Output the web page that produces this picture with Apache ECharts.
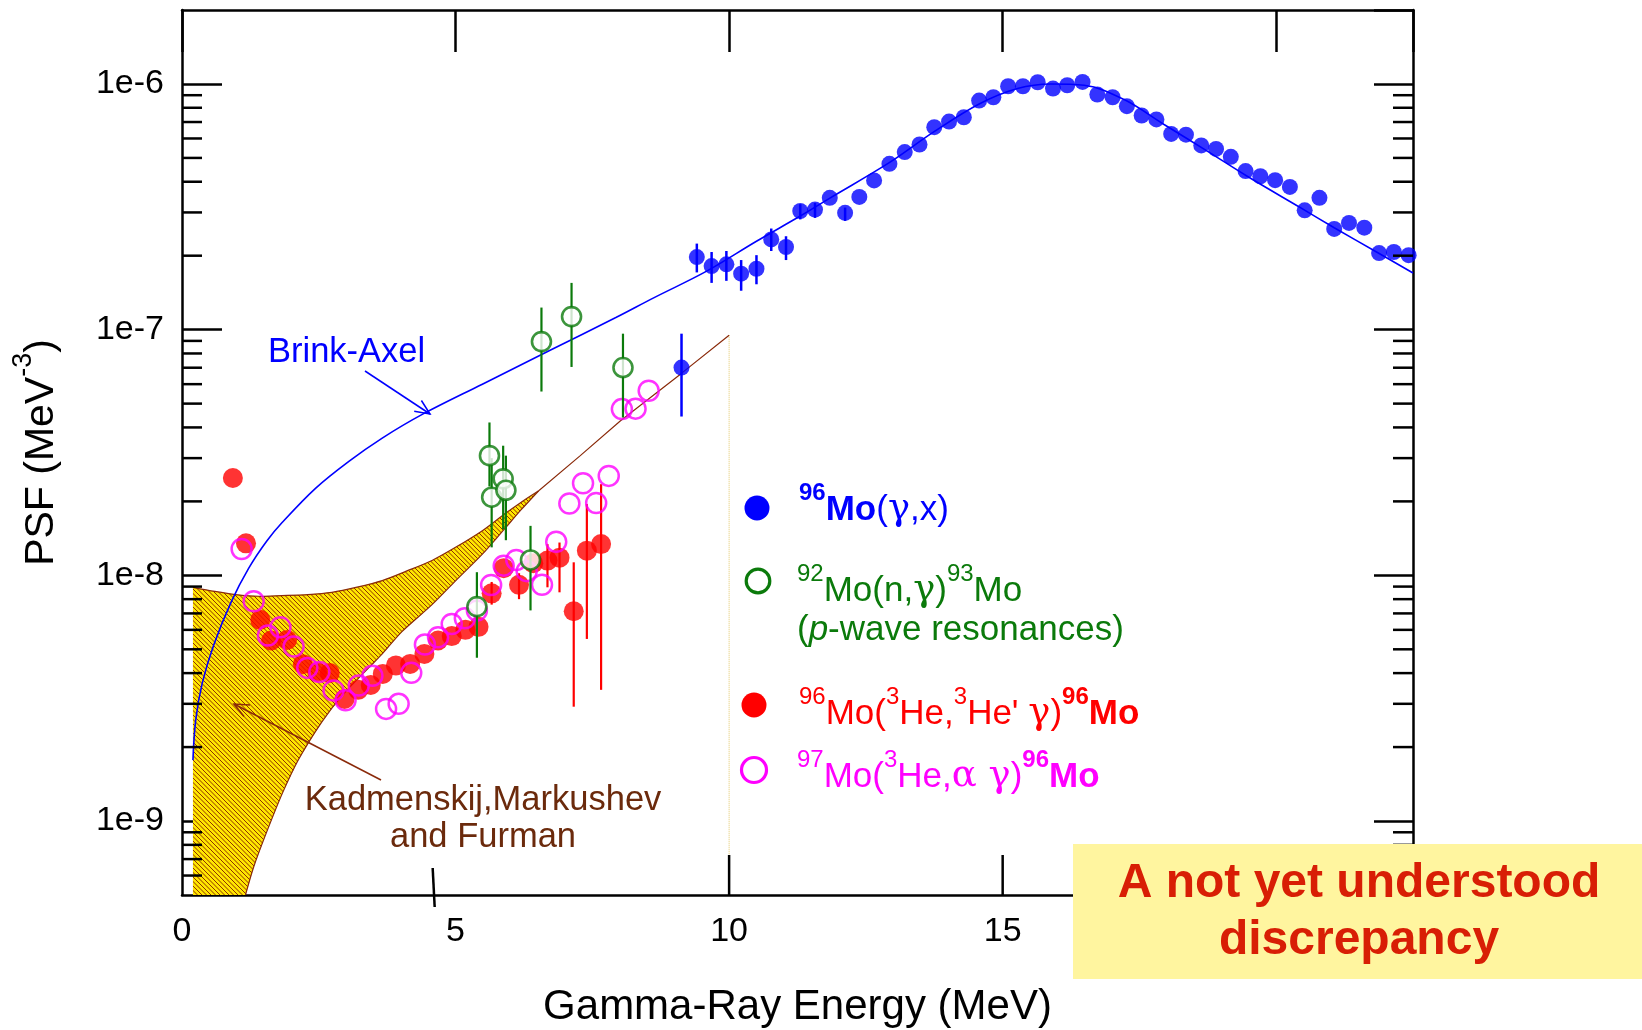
<!DOCTYPE html>
<html>
<head>
<meta charset="utf-8">
<title>PSF 96Mo</title>
<script src="https://cdn.jsdelivr.net/npm/echarts@6.0.0/dist/echarts.min.js"></script>
<style>
html,body{margin:0;padding:0;background:#ffffff;overflow:hidden;}
#chart{width:1642px;height:1030px;}
</style>
</head>
<body>
<div id="chart"></div>
<script>
// ---------------- data ----------------
const xTickLabels = ['0', '5', '10', '15', '20'];
const yTickLabels = ['1e-9', '1e-8', '1e-7', '1e-6'];
// bottom-axis tick marks as drawn in the reference (the one near 5 sits off-place, at ~4.6)
const bottomTickE = [10, 15, 20];
const strayTickE = [4.6];

// 96Mo(gamma,x)
const blueE = [9.13, 9.41, 9.68, 9.95, 10.22, 10.50, 10.77, 11.04, 11.30, 11.57, 11.84, 12.12, 12.38, 12.65, 12.93,
  13.21, 13.48, 13.75, 14.02, 14.29, 14.57, 14.83, 15.10, 15.37, 15.64, 15.92, 16.18, 16.46, 16.73, 17.01,
  17.27, 17.54, 17.81, 18.08, 18.35, 18.63, 18.90, 19.17, 19.44, 19.71, 19.98, 20.25, 20.52, 20.79, 21.06,
  21.33, 21.61, 21.88, 22.15, 22.42];
const blueV = [7.01e-8, 1.975e-7, 1.815e-7, 1.845e-7, 1.69e-7, 1.77e-7, 2.33e-7, 2.17e-7, 3.04e-7, 3.08e-7, 3.44e-7, 2.99e-7, 3.47e-7, 4.05e-7, 4.73e-7,
  5.28e-7, 5.67e-7, 6.67e-7, 7.03e-7, 7.32e-7, 8.56e-7, 8.83e-7, 9.79e-7, 9.79e-7, 1.016e-6, 9.58e-7, 9.88e-7, 1.019e-6, 9.06e-7, 8.83e-7,
  8.12e-7, 7.44e-7, 7.17e-7, 6.26e-7, 6.22e-7, 5.62e-7, 5.44e-7, 5.05e-7, 4.42e-7, 4.21e-7, 4.06e-7, 3.81e-7, 3.06e-7, 3.44e-7, 2.57e-7,
  2.72e-7, 2.60e-7, 2.05e-7, 2.07e-7, 2.01e-7];
const blueErrE  = [9.13, 9.41, 9.68, 9.95, 10.22, 10.50, 10.77, 11.04, 11.30, 11.57, 12.12];
const blueErrLo = [4.43e-8, 1.71e-7, 1.55e-7, 1.58e-7, 1.44e-7, 1.53e-7, 2.09e-7, 1.92e-7, 2.81e-7, 2.85e-7, 2.77e-7];
const blueErrHi = [9.63e-8, 2.24e-7, 2.07e-7, 2.09e-7, 1.92e-7, 2.01e-7, 2.58e-7, 2.40e-7, 3.24e-7, 3.28e-7, 3.14e-7];

// 92Mo(n,gamma)93Mo  (p-wave resonances)
const greenE  = [5.39, 5.62, 5.66, 5.87, 5.92, 6.37, 6.57, 7.12, 8.06];
const greenV  = [7.46e-9, 3.07e-8, 2.08e-8, 2.47e-8, 2.22e-8, 1.155e-8, 8.94e-8, 1.13e-7, 7.01e-8];
const greenLo = [4.62e-9, 2.30e-8, 1.30e-8, 1.54e-8, 1.39e-8, 7.2e-9, 5.6e-8, 7.05e-8, 4.39e-8];
const greenHi = [1.03e-8, 4.19e-8, 3.00e-8, 3.37e-8, 3.07e-8, 1.59e-8, 1.23e-7, 1.55e-7, 9.63e-8];

// 96Mo(3He,3He' gamma)96Mo
const redE = [0.93, 1.17, 1.43, 1.63, 1.92, 2.21, 2.47, 2.70, 2.97, 3.22, 3.45, 3.67, 3.91, 4.17,
  4.43, 4.68, 4.93, 5.18, 5.42, 5.66, 5.88, 6.16, 6.42, 6.68, 6.90, 7.16, 7.40, 7.66];
const redV = [2.49e-8, 1.35e-8, 6.59e-9, 5.43e-9, 5.46e-9, 4.35e-9, 4.04e-9, 4.00e-9, 3.14e-9, 3.42e-9, 3.58e-9, 3.97e-9, 4.30e-9, 4.36e-9,
  4.79e-9, 5.43e-9, 5.66e-9, 6.0e-9, 6.17e-9, 8.45e-9, 1.07e-8, 9.15e-9, 1.12e-8, 1.148e-8, 1.18e-8, 7.14e-9, 1.26e-8, 1.34e-8];
const redErrE  = [5.66, 6.16, 6.68, 6.90, 7.16, 7.40, 7.66];
const redErrLo = [7.6e-9, 8.0e-9, 8.94e-9, 8.53e-9, 2.92e-9, 5.51e-9, 3.42e-9];
const redErrHi = [9.4e-9, 1.02e-8, 1.34e-8, 1.36e-8, 1.13e-8, 1.95e-8, 2.35e-8];

// 97Mo(3He,alpha gamma)96Mo
const magE = [1.09, 1.31, 1.57, 1.80, 2.04, 2.29, 2.51, 2.77, 2.99, 3.23, 3.48, 3.73, 3.96, 4.19, 4.44, 4.68,
  4.93, 5.17, 5.39, 5.65, 5.88, 6.11, 6.30, 6.58, 6.84, 7.08, 7.33, 7.57, 7.80, 8.04, 8.29, 8.53];
const magV = [1.28e-8, 7.84e-9, 5.69e-9, 6.15e-9, 5.13e-9, 4.20e-9, 4.04e-9, 3.40e-9, 3.10e-9, 3.56e-9, 3.90e-9, 2.86e-9, 3.00e-9, 4.01e-9, 5.23e-9, 5.60e-9,
  6.34e-9, 6.69e-9, 7.19e-9, 9.13e-9, 1.095e-8, 1.155e-8, 1.04e-8, 9.15e-9, 1.37e-8, 1.96e-8, 2.37e-8, 1.97e-8, 2.54e-8, 4.75e-8, 4.77e-8, 5.64e-8];

// Brink-Axel curve
const brinkE = [0.20, 0.25, 0.37, 0.58, 0.90, 1.22, 1.55, 1.83, 2.44, 3.05, 3.66, 4.40, 5.49, 6.71, 7.93,
  8.63, 9.59, 10.50, 11.30, 11.85, 12.92, 13.74, 14.57, 15.27, 15.88, 16.49, 17.22, 17.95, 18.74, 19.47,
  20.45, 21.06, 21.85, 22.50];
const brinkV = [1.77e-9, 2.57e-9, 3.64e-9, 5.21e-9, 7.8e-9, 1.07e-8, 1.38e-8, 1.64e-8, 2.26e-8, 2.91e-8, 3.62e-8, 4.53e-8, 6.0e-8, 8.2e-8, 1.12e-7,
  1.35e-7, 1.73e-7, 2.29e-7, 2.90e-7, 3.44e-7, 4.77e-7, 6.38e-7, 8.29e-7, 9.58e-7, 1.00e-6, 9.88e-7, 8.64e-7, 6.84e-7, 5.33e-7, 4.21e-7,
  3.13e-7, 2.60e-7, 2.06e-7, 1.70e-7];

// Kadmenskij, Markushev and Furman band
const bandUpperE = [0.20, 0.60, 0.98, 1.40, 1.82, 2.30, 2.74, 3.20, 3.66, 4.10, 4.57, 5.00, 5.49, 5.90, 6.22, 6.52];
const bandUpperV = [8.94e-9, 8.6e-9, 8.35e-9, 8.22e-9, 8.27e-9, 8.35e-9, 8.53e-9, 8.95e-9, 9.52e-9, 1.04e-8, 1.15e-8, 1.30e-8, 1.52e-8, 1.78e-8, 2.0e-8, 2.21e-8];
const bandLowerE = [1.16, 1.31, 1.52, 1.83, 2.13, 2.56, 2.93, 3.41, 3.66, 4.02, 4.57, 5.00, 5.49, 5.90, 6.20, 6.52];
const bandLowerV = [5.0e-10, 6.5e-10, 8.7e-10, 1.29e-9, 1.78e-9, 2.54e-9, 3.25e-9, 4.2e-9, 4.79e-9, 5.9e-9, 7.6e-9, 9.5e-9, 1.22e-8, 1.55e-8, 1.85e-8, 2.21e-8];
const kmfExtE = [6.52, 7.28, 8.01, 9.11, 10.0];
const kmfExtV = [2.21e-8, 3.07e-8, 4.25e-8, 6.59e-8, 9.49e-8];
const kmfEndE = [10.0, 10.0];
const kmfEndV = [9.49e-8, 5e-10];

// ---------------- chart ----------------
const X_MIN = 0, X_MAX = 22.5, Y_MIN = 5e-10, Y_MAX = 2e-6;
const FF = '"Liberation Sans", Arial, Helvetica, sans-serif';
const C_BLUE = '#0000FF', C_GREEN = '#0B7A0B', C_RED = '#FF0000', C_MAG = '#FF00FF';
const C_BROWN = '#8A2A0A', C_KTXT = '#6B2A0C';
const TICK_W = 2.5, MAJOR_LEN = 40, MINOR_LEN = 20;

function zip(a, b) { return a.map((v, i) => [v, b[i]]); }

function hatchCanvas() {
  const s = 27, c = document.createElement('canvas');
  c.width = s; c.height = s;
  const g = c.getContext('2d');
  g.fillStyle = '#FFE600'; g.fillRect(0, 0, s, s);
  g.strokeStyle = '#8B3000'; g.lineWidth = 1.0;
  for (let x = -s; x <= s; x += 4.5) { g.beginPath(); g.moveTo(x, 0); g.lineTo(x + s, s); g.stroke(); }
  return c;
}
const hatch = hatchCanvas();

// minor log tick positions (2..9 x 10^n inside the axis range)
const minorVals = [];
for (let d = -10; d <= -7; d++) for (let k = 2; k <= 9; k++) {
  const v = k * Math.pow(10, d);
  if (v > Y_MIN * 1.0001 && v < Y_MAX * 0.9999) minorVals.push(v);
}

function errSeries(name, E, lo, hi, color, width, z) {
  return {
    type: 'custom', name: name, z: z, silent: true,
    data: E.map((e, i) => [e, lo[i], hi[i]]),
    encode: { x: 0, y: [1, 2] },
    renderItem: (params, api) => {
      const a = api.coord([api.value(0), api.value(1)]);
      const b = api.coord([api.value(0), api.value(2)]);
      return { type: 'line', shape: { x1: a[0], y1: a[1], x2: b[0], y2: b[1] }, style: { stroke: color, lineWidth: width } };
    }
  };
}

function arrow(x1, y1, x2, y2, color, w) {
  const dx = x2 - x1, dy = y2 - y1, L = Math.hypot(dx, dy), bx = -dx / L, by = -dy / L;
  const a = 24 * Math.PI / 180, h = 16;
  const p1 = [x2 + h * (bx * Math.cos(a) - by * Math.sin(a)), y2 + h * (bx * Math.sin(a) + by * Math.cos(a))];
  const p2 = [x2 + h * (bx * Math.cos(-a) - by * Math.sin(-a)), y2 + h * (bx * Math.sin(-a) + by * Math.cos(-a))];
  return [
    { type: 'line', z: 100, silent: true, shape: { x1: x1, y1: y1, x2: x2, y2: y2 }, style: { stroke: color, lineWidth: w } },
    { type: 'polyline', z: 100, silent: true, shape: { points: [p1, [x2, y2], p2] }, style: { stroke: color, lineWidth: w, fill: null } }
  ];
}

function rich(color) {
  return {
    m:  { fontSize: 35, fontFamily: FF, fill: color, lineHeight: 46, verticalAlign: 'bottom' },
    mb: { fontSize: 35, fontFamily: FF, fontWeight: 'bold', fill: color, lineHeight: 46, verticalAlign: 'bottom' },
    it: { fontSize: 35, fontFamily: FF, fontStyle: 'italic', fill: color, lineHeight: 46, verticalAlign: 'bottom' },
    g:  { fontSize: 37, fontFamily: '"DejaVu Serif", serif', fill: color, lineHeight: 46, verticalAlign: 'bottom' },
    s:  { fontSize: 24, fontFamily: FF, fill: color, lineHeight: 46, verticalAlign: 'top' },
    sb: { fontSize: 24, fontFamily: FF, fontWeight: 'bold', fill: color, lineHeight: 46, verticalAlign: 'top' }
  };
}
// y is the centre of the main (non-superscript) text
function richText(x, y, text, color) {
  return { type: 'text', z: 100, silent: true, x: x, y: y - 28.5,
    style: { text: text, rich: rich(color), fill: color, fontSize: 35, fontFamily: FF,
      align: 'left', verticalAlign: 'top', textAlign: 'left', textVerticalAlign: 'top' } };
}
function plainText(x, y, text, color, size, weight, align) {
  return { type: 'text', z: 100, silent: true, x: x, y: y,
    style: { text: text, fill: color, fontSize: size, fontFamily: FF, fontWeight: weight || 'normal',
      align: align || 'left', verticalAlign: 'middle', textAlign: align || 'left', textVerticalAlign: 'middle' } };
}

const graphics = [].concat(
  // legend
  [{ type: 'circle', z: 100, silent: true, shape: { cx: 757, cy: 508, r: 12.5 }, style: { fill: C_BLUE } }],
  [richText(799, 510, '{sb|96}{mb|Mo}{m|(}{g|γ}{m|,x)}', C_BLUE)],
  [{ type: 'circle', z: 100, silent: true, shape: { cx: 758, cy: 581, r: 11.8 }, style: { fill: '#fff', stroke: C_GREEN, lineWidth: 3.2 } }],
  [richText(797, 591, '{s|92}{m|Mo(n,}{g|γ}{m|)}{s|93}{m|Mo}', C_GREEN)],
  [richText(797, 630, '{m|(}{it|p}{m|-wave resonances)}', C_GREEN)],
  [{ type: 'circle', z: 100, silent: true, shape: { cx: 754, cy: 705, r: 12.5 }, style: { fill: C_RED } }],
  [richText(799, 714, "{s|96}{m|Mo(}{s|3}{m|He,}{s|3}{m|He' }{g|γ}{m|)}{sb|96}{mb|Mo}", C_RED)],
  [{ type: 'circle', z: 100, silent: true, shape: { cx: 754, cy: 770, r: 12.5 }, style: { fill: 'rgba(0,0,0,0)', stroke: C_MAG, lineWidth: 3.2 } }],
  [richText(797, 777, '{s|97}{m|Mo(}{s|3}{m|He,}{g|α γ}{m|)}{sb|96}{mb|Mo}', C_MAG)],
  // annotations
  [plainText(268, 352, 'Brink-Axel', C_BLUE, 34.5)],
  arrow(365, 371, 430, 414, C_BLUE, 1.5),
  [plainText(483, 800, 'Kadmenskij,Markushev', C_KTXT, 34.5, 'normal', 'center')],
  [plainText(483, 837, 'and Furman', C_KTXT, 34.5, 'normal', 'center')],
  arrow(381, 780, 234, 704, C_BROWN, 1.5),
  // highlighted note
  [{ type: 'rect', z: 100, silent: true, shape: { x: 1073, y: 844, width: 569, height: 135 }, style: { fill: '#FFF59F' } }],
  [plainText(1359, 884, 'A not yet understood', '#D81E05', 48, 'bold', 'center')],
  [plainText(1359, 941, 'discrepancy', '#D81E05', 48, 'bold', 'center')]
);

const axisLineStyle = { color: '#000', width: 2.5 };
const tickStyle = { color: '#000', width: TICK_W };

const option = {
  animation: false,
  backgroundColor: '#ffffff',
  textStyle: { fontFamily: FF },
  grid: { left: 182, right: 229, top: 10, bottom: 135, containLabel: false, outerBoundsMode: 'none' },
  xAxis: [
    {
      type: 'value', position: 'bottom', min: X_MIN, max: X_MAX, interval: 5,
      name: 'Gamma-Ray Energy (MeV)', nameLocation: 'middle', nameGap: 91,
      nameTextStyle: { fontSize: 42, fontFamily: FF, color: '#000' },
      axisLine: { show: true, onZero: false, lineStyle: axisLineStyle },
      axisTick: { show: false },
      axisLabel: { show: true, margin: 20, fontSize: 34, fontFamily: FF, color: '#000', showMaxLabel: false,
        formatter: v => (xTickLabels.indexOf(String(v)) >= 0 ? String(v) : '') },
      splitLine: { show: false }
    },
    {
      type: 'value', position: 'top', min: X_MIN, max: X_MAX, interval: 5,
      axisLine: { show: true, onZero: false, lineStyle: axisLineStyle },
      axisTick: { show: true, inside: true, length: 42, lineStyle: tickStyle },
      axisLabel: { show: false }, splitLine: { show: false }
    }
  ],
  yAxis: [
    {
      type: 'log', logBase: 10, position: 'left', min: Y_MIN, max: Y_MAX,
      name: '{n|PSF (MeV}{s|-3}{n|)}', nameLocation: 'middle', nameGap: 120,
      nameTextStyle: { fontSize: 41, fontFamily: FF, color: '#000',
        rich: { n: { fontSize: 41, fontFamily: FF, color: '#000', lineHeight: 52, verticalAlign: 'bottom' },
                s: { fontSize: 27, fontFamily: FF, color: '#000', lineHeight: 52, verticalAlign: 'top' } } },
      axisLine: { show: true, onZero: false, lineStyle: axisLineStyle },
      axisTick: { show: true, inside: true, length: MAJOR_LEN, lineStyle: tickStyle },
      axisLabel: { show: true, margin: 18, fontSize: 34, fontFamily: FF, color: '#000', showMinLabel: false, showMaxLabel: false,
        formatter: v => { const s = yTickLabels.find(t => Math.abs(Number(t) - v) / v < 1e-6); return s || ''; } },
      splitLine: { show: false }
    },
    {
      type: 'log', logBase: 10, position: 'right', min: Y_MIN, max: Y_MAX,
      axisLine: { show: true, onZero: false, lineStyle: axisLineStyle },
      axisTick: { show: true, inside: true, length: 39, lineStyle: tickStyle },
      axisLabel: { show: false }, splitLine: { show: false }
    }
  ],
  series: [
    {
      type: 'custom', name: 'KMF band', z: 1, silent: true,
      data: [[bandUpperE[0], bandUpperV[0]]], encode: { x: 0, y: 1 },
      renderItem: (params, api) => {
        const up = bandUpperE.map((e, i) => api.coord([e, bandUpperV[i]]));
        const lo = bandLowerE.map((e, i) => api.coord([e, bandLowerV[i]]));
        const lb = api.coord([bandUpperE[0], Y_MIN]);
        const poly = [lb].concat(up, lo.slice().reverse());
        return { type: 'group', children: [
          { type: 'polygon', shape: { points: poly }, style: { fill: { image: hatch, repeat: 'repeat' }, stroke: null } },
          { type: 'polyline', shape: { points: up, smooth: 0.3 }, style: { stroke: C_BROWN, lineWidth: 1.2, fill: null } },
          { type: 'polyline', shape: { points: lo, smooth: 0.3 }, style: { stroke: C_BROWN, lineWidth: 1.2, fill: null } }
        ] };
      }
    },
    { type: 'line', name: 'KMF end', z: 2, silent: true, data: zip(kmfEndE, kmfEndV), symbol: 'none',
      lineStyle: { color: '#E2C868', width: 1, type: 'dotted' } },
    { type: 'line', name: 'KMF extension', z: 2, silent: true, data: zip(kmfExtE, kmfExtV), symbol: 'none',
      lineStyle: { color: C_BROWN, width: 1.2 } },
    { type: 'line', name: 'Brink-Axel', z: 3, silent: true, data: zip(brinkE, brinkV), symbol: 'none', smooth: 0.35,
      lineStyle: { color: C_BLUE, width: 1.6 } },
    errSeries('red err', redErrE, redErrLo, redErrHi, C_RED, 2.2, 4),
    { type: 'scatter', name: "96Mo(3He,3He'g)96Mo", z: 5, silent: true, data: zip(redE, redV), symbol: 'circle', symbolSize: 20,
      itemStyle: { color: C_RED } },
    { type: 'scatter', name: '97Mo(3He,ag)96Mo', z: 6, silent: true, data: zip(magE, magV), symbol: 'circle', symbolSize: 20,
      itemStyle: { color: 'rgba(0,0,0,0)', borderColor: C_MAG, borderWidth: 2.5 } },
    errSeries('green err', greenE, greenLo, greenHi, C_GREEN, 2.2, 7),
    { type: 'scatter', name: '92Mo(n,g)93Mo', z: 8, silent: true, data: zip(greenE, greenV), symbol: 'circle', symbolSize: 19,
      itemStyle: { color: '#ffffff', borderColor: C_GREEN, borderWidth: 2.6 } },
    errSeries('blue err', blueErrE, blueErrLo, blueErrHi, C_BLUE, 2.5, 9),
    { type: 'scatter', name: '96Mo(g,x)', z: 10, silent: true, data: zip(blueE, blueV), symbol: 'circle', symbolSize: 16,
      itemStyle: { color: C_BLUE } },
    {
      type: 'custom', name: 'minor ticks', z: 11, silent: true,
      data: minorVals.map(v => [X_MIN, v]), encode: { x: 0, y: 1 },
      renderItem: (params, api) => {
        const v = api.value(1);
        const l = api.coord([X_MIN, v]);
        const r = api.coord([X_MAX, v]);
        return { type: 'group', children: [
          { type: 'line', shape: { x1: l[0], y1: l[1], x2: l[0] + MINOR_LEN, y2: l[1] }, style: { stroke: '#000', lineWidth: TICK_W } },
          { type: 'line', shape: { x1: r[0], y1: r[1], x2: r[0] - MINOR_LEN, y2: r[1] }, style: { stroke: '#000', lineWidth: TICK_W } }
        ] };
      }
    },
    {
      type: 'custom', name: 'bottom ticks', z: 11, silent: true,
      data: bottomTickE.map(e => [e, Y_MIN]), encode: { x: 0, y: 1 },
      renderItem: (params, api) => {
        const p = api.coord([api.value(0), Y_MIN]);
        return { type: 'line', shape: { x1: p[0], y1: p[1], x2: p[0], y2: p[1] - MAJOR_LEN }, style: { stroke: '#000', lineWidth: TICK_W } };
      }
    },
    {
      type: 'custom', name: 'stray tick', z: 11, silent: true, clip: false,
      data: strayTickE.map(e => [e, Y_MIN]), encode: { x: 0, y: 1 },
      renderItem: (params, api) => {
        const p = api.coord([api.value(0), Y_MIN]);
        return { type: 'line', shape: { x1: p[0] - 1, y1: p[1] - 27, x2: p[0] + 1, y2: p[1] + 12 }, style: { stroke: '#000', lineWidth: TICK_W } };
      }
    }
  ],
  graphic: { elements: graphics }
};

const chart = echarts.init(document.getElementById('chart'), null, { renderer: 'canvas' });
chart.setOption(option);
</script>
</body>
</html>
